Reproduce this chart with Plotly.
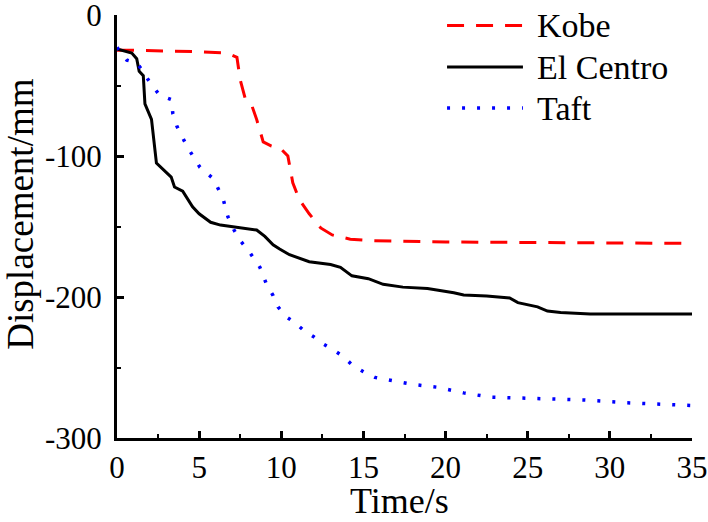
import plotly.graph_objects as go

# ---- data ----
kobe_t = [0, 0.8, 4.9, 6.7, 7.3, 7.5, 7.8, 8.2, 8.5, 8.9, 9.4, 9.9, 10.4, 10.7, 11.1,
          11.7, 12.4, 13.1, 14.2, 15.4, 20, 25, 30, 35]
kobe_y = [-25, -25, -26, -27, -30, -46, -59, -64, -74, -90, -93, -94, -100, -119, -131,
          -141, -151, -156, -159, -160, -161, -161.5, -162, -162]

elc_t = [0, 0.9, 1.2, 1.35, 1.6, 1.7, 2.1, 2.25, 2.4, 3.3, 3.5, 4.0, 4.6, 5.0, 5.7, 6.3,
         7.5, 8.5, 9.0, 9.5, 9.9, 10.5, 11.7, 13.0, 13.6, 14.3, 15.3, 16.2, 17.4, 18.9,
         20.5, 21.1, 22.5, 23.9, 24.4, 25.6, 26.2, 27.0, 28.8, 35]
elc_y = [-24, -27, -31, -40, -43, -63, -74, -89, -105, -115, -122, -125, -136, -141, -147,
         -149, -151, -152.5, -157, -163, -166, -170, -175, -177, -179, -185, -187, -191,
         -193, -194, -197, -198.6, -199.3, -200.7, -204, -207, -210, -211, -212, -212]

taft_t = [0, 0.6, 1.2, 1.6, 1.9, 2.6, 3.3, 3.4, 3.65, 4.3, 5.05, 5.85, 6.45, 6.75, 7.1,
          7.5, 8.0, 8.7, 9.1, 9.5, 9.8, 10.3, 10.8, 11.4, 11.95, 12.5, 13.1, 13.75, 14.3,
          15.0, 15.7, 17.0, 18.0, 19.5, 21.1, 22.7, 25.3, 28.4, 31.0, 33.2, 35]
taft_y = [-23, -32, -34, -40, -46, -57, -60, -70, -79, -94, -108, -116, -130, -143, -152,
          -160, -167, -179, -191, -199, -207, -214, -218, -224, -228, -233, -237, -242,
          -248, -253, -257, -260, -262, -264, -268, -271, -272, -273, -275, -276, -277]

series_names = ["Kobe", "El Centro", "Taft"]
x_ticks = [0, 5, 10, 15, 20, 25, 30, 35]
y_ticks = [-300, -200, -100, 0]
x_title = "Time/s"
y_title = "Displacement/mm"

FONT = "Liberation Serif"
styles = [
    dict(color="#ff0000", width=3, dash="17px,12px"),
    dict(color="#000000", width=3, dash="solid"),
    dict(color="#0000ff", width=3.5, dash="3px,12px"),
]

fig = go.Figure()
for name, t, y, st in zip(series_names, [kobe_t, elc_t, taft_t],
                          [kobe_y, elc_y, taft_y], styles):
    fig.add_trace(go.Scatter(x=t, y=y, mode="lines", name=name, line=st,
                             showlegend=False))

# manual legend (paper coordinates)
leg_y = [0.975, 0.877, 0.780]
for name, st, ly in zip(series_names, styles, leg_y):
    fig.add_shape(type="line", xref="paper", yref="paper", x0=0.574, x1=0.706,
                  y0=ly, y1=ly, line=st)
    fig.add_annotation(xref="paper", yref="paper", x=0.727, y=ly, text=name,
                       showarrow=False, xanchor="left", yanchor="middle",
                       font=dict(family=FONT, size=34, color="black"))

# axis titles
fig.add_annotation(xref="paper", yref="paper", x=0.492, y=-0.149, text=x_title,
                   showarrow=False, xanchor="center", yanchor="middle",
                   font=dict(family=FONT, size=36, color="black"))
fig.add_annotation(xref="paper", yref="paper", x=-0.167, y=0.53, text=y_title,
                   showarrow=False, xanchor="center", yanchor="middle", textangle=-90,
                   font=dict(family=FONT, size=37, color="black"))

axis_common = dict(
    showline=True, linecolor="black", linewidth=3, mirror=False,
    showgrid=False, zeroline=False,
    ticks="inside", ticklen=7, tickwidth=2.5, tickcolor="black",
    tickfont=dict(family=FONT, size=31, color="black"),
    ticklabeloverflow="allow",
)

fig.update_xaxes(range=[0, 35], tickvals=x_ticks, ticktext=[str(v) for v in x_ticks],
                 minor=dict(dtick=2.5, ticks="inside", ticklen=4, tickwidth=2,
                            tickcolor="black", showgrid=False),
                 **axis_common)
fig.update_yaxes(range=[-300, 0], tickvals=y_ticks, ticktext=[str(v) for v in y_ticks],
                 minor=dict(dtick=50, ticks="inside", ticklen=4, tickwidth=2,
                            tickcolor="black", showgrid=False),
                 ticklabelstandoff=6,
                 **axis_common)

fig.update_layout(
    width=708, height=522,
    margin=dict(l=117, r=16, t=15, b=84, autoexpand=False),
    plot_bgcolor="white", paper_bgcolor="white",
    showlegend=False,
)

# remove the default page margin so the 708x522 figure fills the window exactly
fig.write_html("out.html", config={"displayModeBar": False},
               post_script="document.body.style.margin='0';document.body.style.overflow='hidden';")
